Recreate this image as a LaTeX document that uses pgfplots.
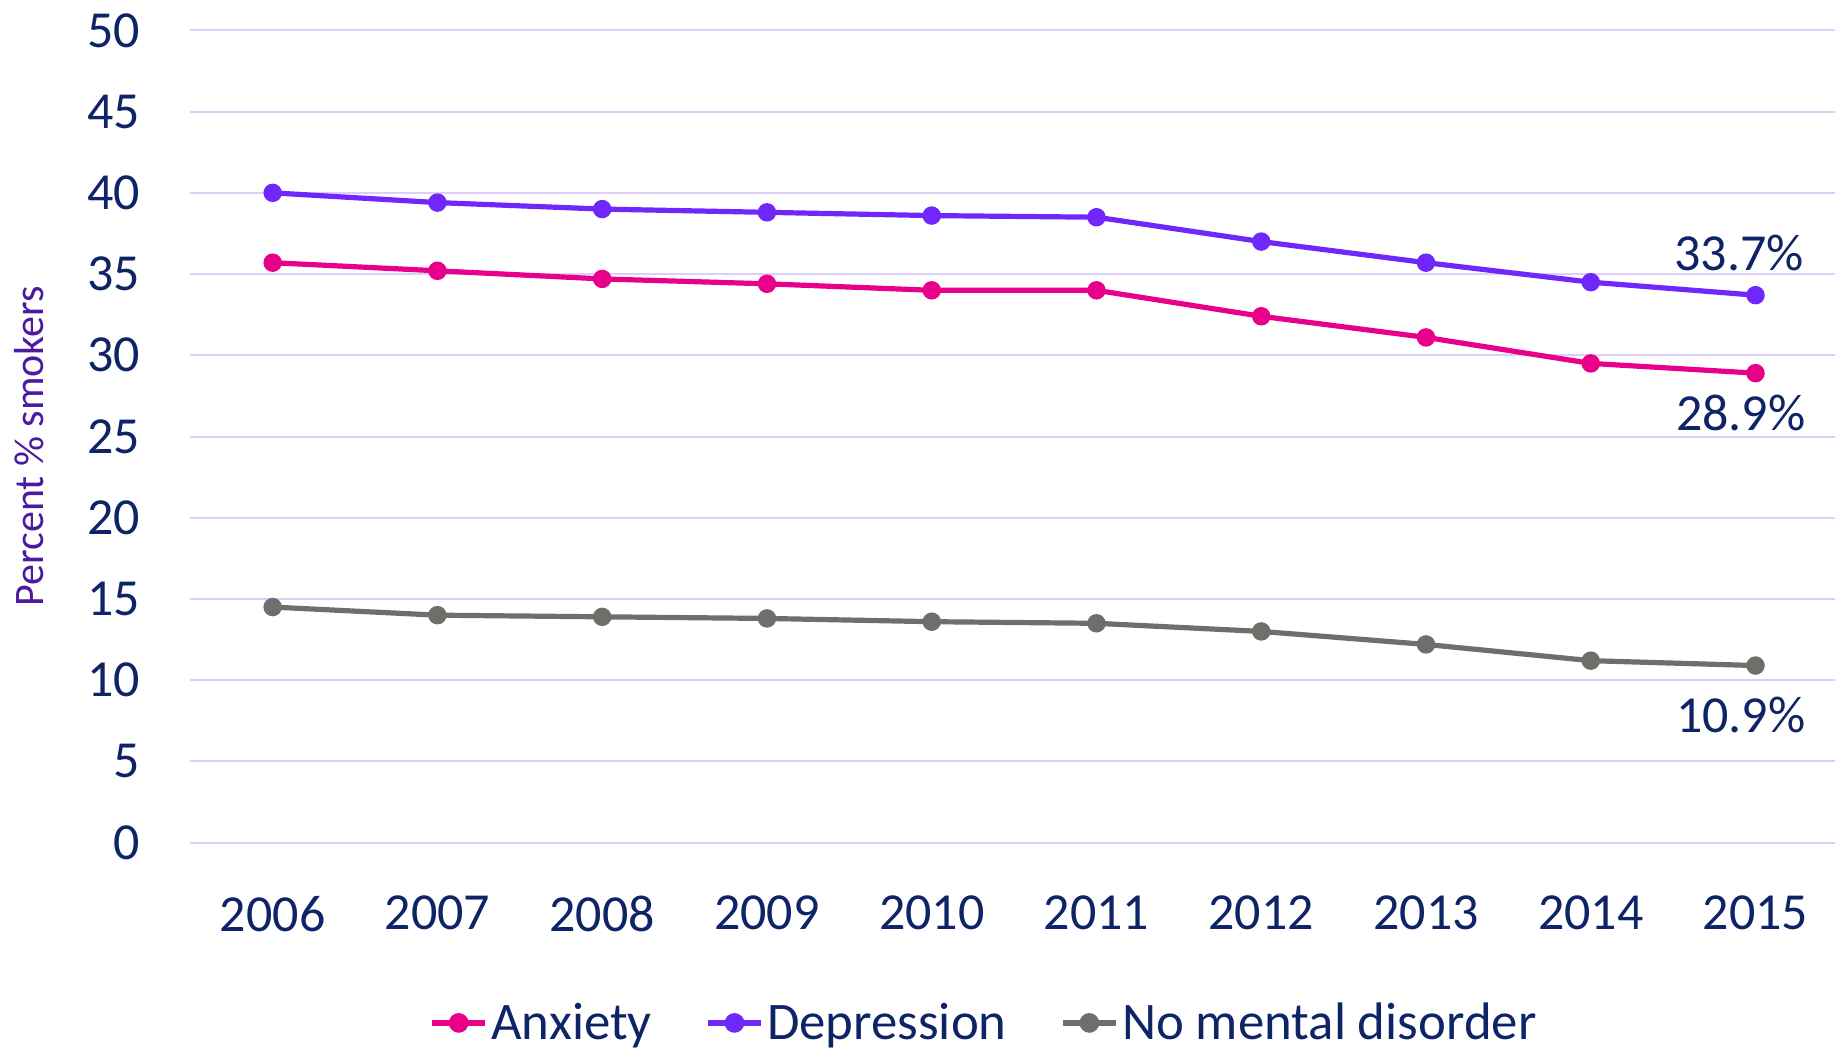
\documentclass[border=0pt]{standalone}
\usepackage{fontspec}
\setmainfont{Carlito}
\usepackage{pgfplots}
\pgfplotsset{compat=1.18}
\definecolor{navy}{HTML}{0E2466}
\definecolor{ylab}{HTML}{4B1AA0}
\definecolor{gridc}{HTML}{DCCFFA}
\definecolor{anx}{HTML}{E8008A}
\definecolor{dep}{HTML}{7028FA}
\definecolor{nomd}{HTML}{6E6E6A}
\begin{document}
\begin{tikzpicture}
\begin{axis}[
  at={(0,0)}, anchor=south west,
  scale only axis, width=823.8pt, height=406.1pt,
  xmin=-0.5, xmax=9.5, ymin=0, ymax=50,
  xtick={0,...,9},
  xticklabels={2006,2007,2008,2009,2010,2011,2012,2013,2014,2015},
  ytick={0,5,...,50},
  axis line style={draw=none},
  major tick length=0pt,
  xmajorgrids=false,
  ymajorgrids=true,
  major grid style={draw=gridc, line width=1pt},
  /pgf/number format/assume math mode=true,
  tick label style={font=\fontsize{26}{30}\selectfont, text=navy, inner sep=0pt},
  x tick label style={anchor=north, yshift=-26.5pt},
  y tick label style={anchor=east, xshift=-25pt},
  ylabel={Percent \% smokers},
  ylabel style={at={(axis description cs:-0.0977,0.488)}, anchor=center, font=\fontsize{21}{25}\selectfont, text=ylab},
  legend columns=3,
  legend style={at={(axis description cs:0.141,-0.222)}, anchor=west, draw=none, fill=none,
    font=\fontsize{26.4}{30}\selectfont, text=navy,
    /tikz/every even column/.append style={column sep=25pt},
    nodes={inner sep=1.5pt}},
  legend image code/.code={\draw[mark repeat=2,mark phase=2,line width=3.2pt] plot coordinates {(0pt,0pt) (13.25pt,0pt) (26.5pt,0pt)};},
  every axis plot/.append style={line width=2.6pt, mark=*, mark size=3.3pt},
  clip=false,
]
\addplot[color=anx, mark options={fill=anx, draw=anx}] coordinates {
(0,35.7) (1,35.2) (2,34.7) (3,34.4) (4,34.0) (5,34.0) (6,32.4) (7,31.1) (8,29.5) (9,28.9)};
\addlegendentry{Anxiety}
\addplot[color=dep, mark options={fill=dep, draw=dep}] coordinates {
(0,40.0) (1,39.4) (2,39.0) (3,38.8) (4,38.6) (5,38.5) (6,37.0) (7,35.7) (8,34.5) (9,33.7)};
\addlegendentry{Depression}
\addplot[color=nomd, mark options={fill=nomd, draw=nomd}] coordinates {
(0,14.5) (1,14.0) (2,13.9) (3,13.8) (4,13.6) (5,13.5) (6,13.0) (7,12.2) (8,11.2) (9,10.9)};
\addlegendentry{No mental disorder}
\node[font=\fontsize{26}{30}\selectfont, text=navy, anchor=center] at (axis cs:8.90,36.3) {33.7\%};
\node[font=\fontsize{26}{30}\selectfont, text=navy, anchor=center] at (axis cs:8.91,26.45) {28.9\%};
\node[font=\fontsize{26}{30}\selectfont, text=navy, anchor=center] at (axis cs:8.91,7.86) {10.9\%};
\end{axis}
\pgfresetboundingbox
\path[use as bounding box] (-95.15pt,-103.7pt) rectangle (822.35pt,421.3pt);
\end{tikzpicture}
\end{document}
